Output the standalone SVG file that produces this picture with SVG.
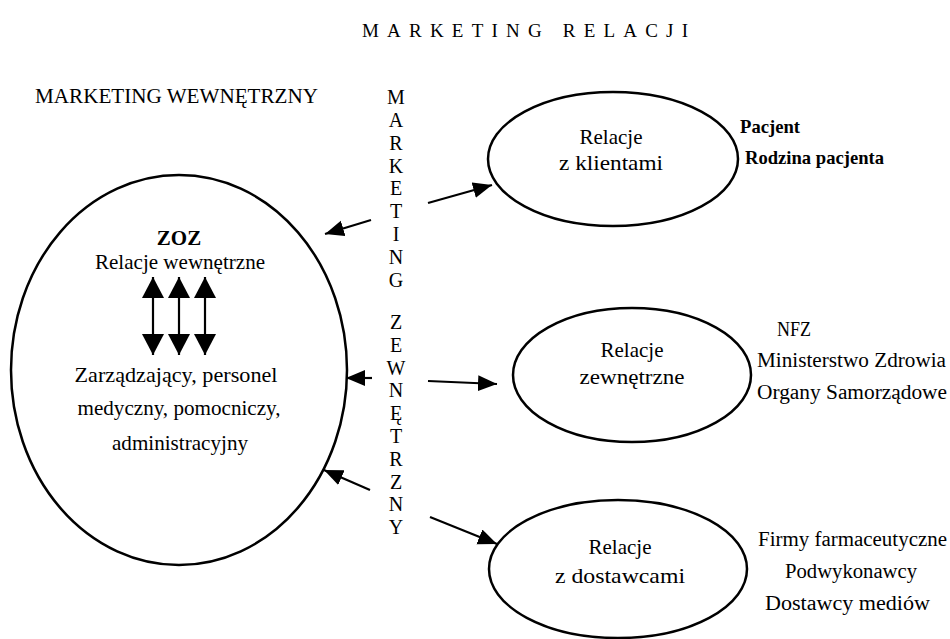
<svg xmlns="http://www.w3.org/2000/svg" width="950" height="639" viewBox="0 0 950 639">
<style>
text{font-family:"Liberation Serif","Times New Roman",serif;fill:#000}
.t{font-size:21px}
.v{font-size:20px;text-anchor:middle}
.c{text-anchor:middle}
.b{font-weight:bold}
.r{font-size:20px}
.el{fill:none;stroke:#000;stroke-width:2.5}
.ar{stroke:#000;stroke-width:2.2;fill:none}
</style>
<defs>
<marker id="ah" markerUnits="userSpaceOnUse" markerWidth="22" markerHeight="18" refX="19" refY="8" orient="auto"><path d="M0,0 L19,8 L0,16 z" fill="#000"/></marker>
<marker id="dh" markerUnits="userSpaceOnUse" markerWidth="24" markerHeight="24" refX="21" refY="11" orient="auto-start-reverse"><path d="M0,0 L21,11 L0,22 z" fill="#000"/></marker>
</defs>
<text x="525" y="37" class="c" style="font-size:19px" textLength="326" lengthAdjust="spacing">MARKETING RELACJI</text>
<text x="35" y="103" class="t" textLength="283" lengthAdjust="spacingAndGlyphs">MARKETING WEWNĘTRZNY</text>
<g id="vertical-label">
<text x="396" y="104" class="v">M</text><text x="396" y="126.8" class="v">A</text><text x="396" y="149.7" class="v">R</text><text x="396" y="172.5" class="v">K</text><text x="396" y="195.4" class="v">E</text><text x="396" y="218.2" class="v">T</text><text x="396" y="241.1" class="v">I</text><text x="396" y="264" class="v">N</text><text x="396" y="286.8" class="v">G</text>
<text x="396" y="329" class="v">Z</text><text x="396" y="351.8" class="v">E</text><text x="396" y="374.6" class="v">W</text><text x="396" y="397.4" class="v">N</text><text x="396" y="420.2" class="v">Ę</text><text x="396" y="443" class="v">T</text><text x="396" y="465.8" class="v">R</text><text x="396" y="488.6" class="v">Z</text><text x="396" y="511.4" class="v">N</text><text x="396" y="534.2" class="v">Y</text>
</g>
<g id="zoz">
<ellipse class="el" cx="179" cy="370" rx="168" ry="195"/>
<text x="179" y="245" class="t c b">ZOZ</text>
<text x="180" y="269" class="t c" textLength="170" lengthAdjust="spacingAndGlyphs">Relacje wewnętrzne</text>
<text x="176" y="382" class="t c" textLength="203" lengthAdjust="spacingAndGlyphs">Zarządzający, personel</text>
<text x="179" y="415" class="t c" textLength="203" lengthAdjust="spacingAndGlyphs">medyczny, pomocniczy,</text>
<text x="180" y="450" class="t c" textLength="136" lengthAdjust="spacingAndGlyphs">administracyjny</text>
</g>
<g id="klienci">
<ellipse class="el" cx="613" cy="159" rx="125" ry="67"/>
<text x="611" y="144" class="t c">Relacje</text>
<text x="611" y="170" class="t c" textLength="104" lengthAdjust="spacingAndGlyphs">z klientami</text>
<text x="740" y="133" class="b" style="font-size:19px" textLength="60" lengthAdjust="spacingAndGlyphs">Pacjent</text>
<text x="745" y="164" class="b" style="font-size:19px" textLength="139" lengthAdjust="spacingAndGlyphs">Rodzina pacjenta</text>
</g>
<g id="zewnetrzne">
<ellipse class="el" cx="632" cy="375" rx="119" ry="67"/>
<text x="632" y="357" class="t c">Relacje</text>
<text x="632" y="384" class="t c" textLength="105" lengthAdjust="spacingAndGlyphs">zewnętrzne</text>
<text x="777" y="336" class="r" textLength="34" lengthAdjust="spacingAndGlyphs">NFZ</text>
<text x="757" y="367" class="r" textLength="189" lengthAdjust="spacingAndGlyphs">Ministerstwo Zdrowia</text>
<text x="757" y="399" class="r" textLength="190" lengthAdjust="spacingAndGlyphs">Organy Samorządowe</text>
</g>
<g id="dostawcy">
<ellipse class="el" cx="618" cy="569" rx="129" ry="69"/>
<text x="620" y="554" class="t c">Relacje</text>
<text x="620" y="583" class="t c" textLength="130" lengthAdjust="spacingAndGlyphs">z dostawcami</text>
<text x="758" y="546" class="r" textLength="189" lengthAdjust="spacingAndGlyphs">Firmy farmaceutyczne</text>
<text x="785" y="578" class="r" textLength="132" lengthAdjust="spacingAndGlyphs">Podwykonawcy</text>
<text x="765" y="610" class="r" textLength="165" lengthAdjust="spacingAndGlyphs">Dostawcy mediów</text>
</g>
<g id="connectors">
<line class="ar" x1="428" y1="203" x2="492" y2="185" marker-end="url(#ah)"/>
<line class="ar" x1="371" y1="220" x2="325" y2="234" marker-end="url(#ah)"/>
<line class="ar" x1="372" y1="378" x2="346" y2="378" marker-end="url(#ah)"/>
<line class="ar" x1="428" y1="381" x2="497" y2="384" marker-end="url(#ah)"/>
<line class="ar" x1="370" y1="490" x2="324" y2="470" marker-end="url(#ah)"/>
<line class="ar" x1="430" y1="517" x2="497" y2="544" marker-end="url(#ah)"/>
<line class="ar" x1="153" y1="277" x2="153" y2="355" marker-start="url(#dh)" marker-end="url(#dh)"/>
<line class="ar" x1="179" y1="277" x2="179" y2="355" marker-start="url(#dh)" marker-end="url(#dh)"/>
<line class="ar" x1="205" y1="277" x2="205" y2="355" marker-start="url(#dh)" marker-end="url(#dh)"/>
</g>
</svg>
